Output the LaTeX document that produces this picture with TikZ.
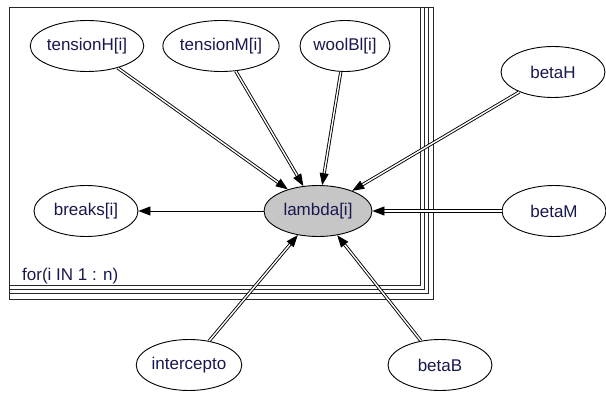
\documentclass[tikz,border=0pt]{standalone}
\usepackage{fontspec}
\setmainfont{Liberation Sans}
\usepackage{xcolor}
\usepackage{tikz}
\usetikzlibrary{shapes.geometric, arrows.meta, positioning}
\definecolor{ink}{RGB}{24,24,80}

\begin{document}
\begin{tikzpicture}
  [
    x=1pt, y=-1pt,
    Round/.style={ellipse, draw=black, fill=white, line width=0.9pt, minimum width=104pt, minimum height=51pt, inner sep=0pt, text=ink, font=\fontsize{17}{20}\selectfont},
    Gray/.style={Round, fill=gray!45, minimum width=108pt},
    Dbl/.style={double=white, double distance=1.4pt, line width=0.9pt},
    Plate/.style={draw=black!85, line width=1pt},
    >={Triangle[length=12pt, width=9pt]}
  ]
  \useasboundingbox (0,0) rectangle (606,393);

  % Plate
  \draw[Plate] (9,8) rectangle (433,300);
  \draw[Plate] (9,8) rectangle (420,286);
  \draw[Plate] (424,8) |- (9,290);
  \draw[Plate] (428,8) |- (9,294);
  \node[anchor=base west, text=ink, font=\fontsize{17}{20}\selectfont, inner sep=0pt] (plate) at (22,281) {for(i IN 1 : n)};

  % Nodes
  \node[Round] (tH) at (87, 46) {tensionH[i]};

  \node[Round] (tM) at (221, 46) {tensionM[i]};

  \node[Round, minimum width=90pt] (wB) at (345, 46) {woolBl[i]};

  \node[Round] (bH) at (553, 72) {betaH};

  \node[Round] (brk) at (86, 211) {breaks[i]};

  \node[Gray] (lam) at (318, 211) {lambda[i]};

  \node[Round] (bM) at (554, 211) {betaM};

  \node[Round] (icp) at (189, 365) {intercepto};

  \node[Round] (bB) at (440, 365) {betaB};


  % Lines
  \path [<-, draw, Dbl] (lam) -- (tH);
  \path [<-, draw, Dbl] (lam) -- (tM);
  \path [<-, draw, Dbl] (lam) -- (wB);
  \path [<-, draw, Dbl] (lam) -- (bH);
  \path [<-, draw, Dbl] (lam) -- (bM);
  \path [<-, draw, Dbl] (lam) -- (icp);
  \path [<-, draw, Dbl] (lam) -- (bB);
  \path [<-, draw, line width=0.9pt] (brk) -- (lam);

\end{tikzpicture}
\end{document}
